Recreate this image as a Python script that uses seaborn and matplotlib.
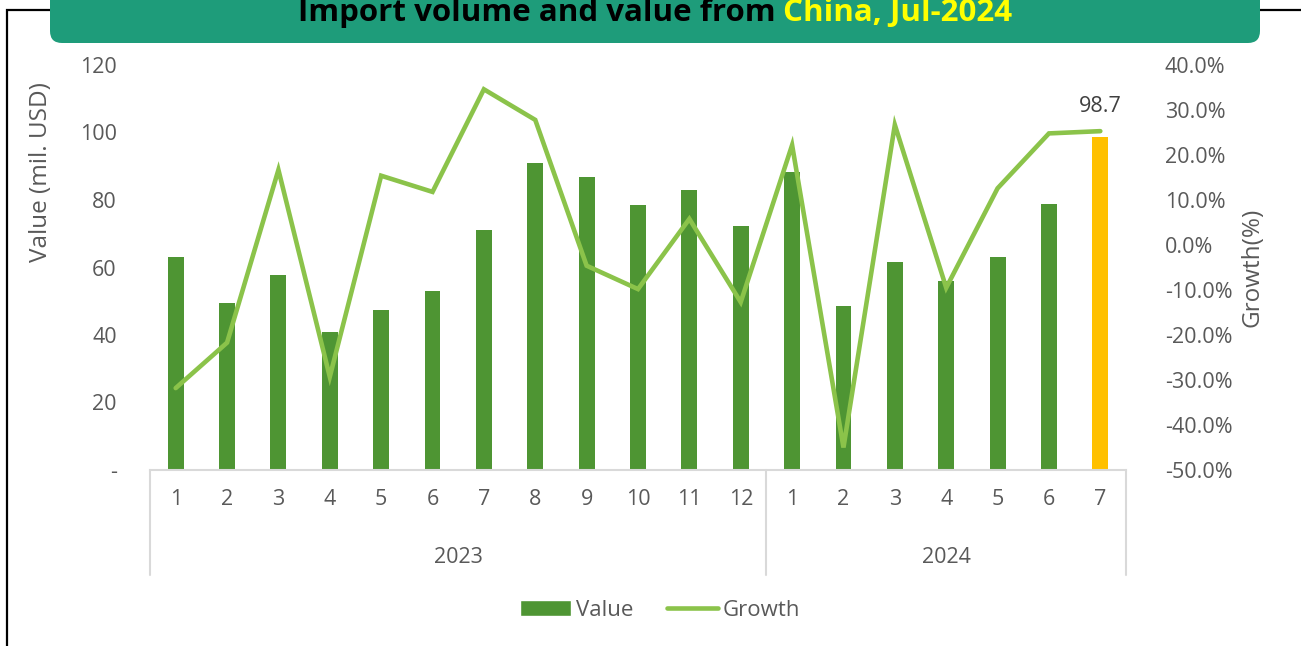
import numpy as np
import pandas as pd
import matplotlib
matplotlib.use("Agg")
import matplotlib.pyplot as plt
import seaborn as sns
from matplotlib.patches import FancyBboxPatch, Rectangle, Patch
from matplotlib.lines import Line2D
from matplotlib.transforms import IdentityTransform, blended_transform_factory

months = ["1", "2", "3", "4", "5", "6", "7", "8", "9", "10", "11", "12",
          "1", "2", "3", "4", "5", "6", "7"]
years = ["2023", "2024"]
year_sizes = [12, 7]
value = [63.2, 49.5, 57.8, 40.9, 47.3, 52.9, 71.2, 91.1, 86.9, 78.4, 82.9, 72.3,
         88.3, 48.6, 61.6, 56.0, 63.1, 78.8, 98.7]
growth = [-31.8, -21.7, 16.7, -29.3, 15.4, 11.8, 34.6, 27.8, -4.6, -9.8, 5.8, -12.7,
          22.2, -45.0, 26.7, -9.5, 12.6, 24.8, 25.3]

sns.set_style("white")
plt.rcParams["font.family"] = ["Open Sans", "DejaVu Sans"]

BAR = "#4e9533"
LAST = "#ffc000"
LINE = "#8bc34a"
GREY = "#595959"

df = pd.DataFrame({"pos": range(len(value)), "value": value, "growth": growth})
pal = {p: BAR for p in df["pos"]}
pal[len(value) - 1] = LAST

W, H = 1301, 646
fig = plt.figure(figsize=(W / 100, H / 100), dpi=100)

# outer frame and title banner
fig.patches.append(Rectangle((7, -20), 1400, H - 10 + 20, transform=IdentityTransform(),
                             fill=False, edgecolor="black", linewidth=1.6, zorder=0))
fig.patches.append(FancyBboxPatch((50, H - 43), 1210, 70, transform=IdentityTransform(),
                                  boxstyle="round,pad=0,rounding_size=12",
                                  facecolor="#1e9c7a", edgecolor="none", zorder=1))

ax = fig.add_axes([150 / W, (H - 470) / H, 976 / W, 405 / H])
sns.barplot(data=df, x="pos", y="value", hue="pos", palette=pal, legend=False,
            width=0.31, linewidth=0, saturation=1, ax=ax)
ax.set_xlim(-0.5, len(value) - 0.5)
ax.set_ylim(0, 120)
ax.set_yticks(range(0, 121, 20))
ax.set_yticklabels(["-"] + [str(v) for v in range(20, 121, 20)])
ax.set_xticks(range(len(months)))
ax.set_xticklabels(months)
ax.tick_params(axis="both", length=0, labelsize=15.5, labelcolor=GREY)
ax.tick_params(axis="y", pad=24)
ax.tick_params(axis="x", pad=14)
ax.set_xlabel("")
ax.set_ylabel("Value (mil. USD)", fontsize=17.5, color=GREY)
ax.yaxis.set_label_coords(-0.099, 0.735)
for s in ["top", "left", "right"]:
    ax.spines[s].set_visible(False)
ax.spines["bottom"].set_color("#d9d9d9")
ax.spines["bottom"].set_linewidth(1.5)

# year group labels and separators
tr = blended_transform_factory(ax.transData, ax.transAxes)
start = -0.5
edges = [start]
for y, n in zip(years, year_sizes):
    ax.text(start + n / 2, -0.215, y, transform=tr, ha="center", va="center",
            fontsize=15.5, color=GREY)
    start += n
    edges.append(start)
for e in edges:
    ax.plot([e, e], [0, -0.259], transform=tr, color="#d9d9d9", linewidth=1.5,
            clip_on=False)

ax.annotate(f"{value[-1]:.1f}", (len(value) - 1, value[-1]), xytext=(0, 14),
            textcoords="offset points", ha="center", va="bottom", fontsize=15.5, color="#404040")

ax2 = ax.twinx()
sns.lineplot(data=df, x="pos", y="growth", color=LINE, linewidth=3.3, ax=ax2,
             solid_capstyle="round", solid_joinstyle="miter")
ax2.set_ylim(-50, 40)
ax2.set_yticks(range(-50, 41, 10))
ax2.set_yticklabels([f"{v:.1f}%" for v in range(-50, 41, 10)])
ax2.tick_params(axis="y", length=0, labelsize=15.5, labelcolor=GREY, pad=28)
ax2.set_ylabel("Growth(%)", fontsize=17.5, color=GREY)
ax2.yaxis.set_label_coords(1.117, 0.5)
ax2.set_xlabel("")
for s in ax2.spines.values():
    s.set_visible(False)

handles = [Patch(facecolor=BAR, label="Value"),
           Line2D([0], [0], color=LINE, linewidth=3.3, label="Growth")]
fig.legend(handles=handles, loc="center", bbox_to_anchor=(660 / W, (H - 610) / H), ncol=2,
           frameon=False, fontsize=16, labelcolor=GREY, handlelength=2.3,
           handletextpad=0.2, columnspacing=1.5)

# two-colour title
fig.canvas.draw()
r = fig.canvas.get_renderer()
ty = (H - 21) / H
t1 = fig.text(0, ty, "Import volume and value from ", fontsize=22.5, fontweight="bold",
              color="black", va="baseline", zorder=3)
t2 = fig.text(0, ty, "China, Jul-2024", fontsize=22.5, fontweight="bold",
              color="#ffff00", va="baseline", zorder=3)
w1 = t1.get_window_extent(r).width
w2 = t2.get_window_extent(r).width
x0 = 655 - (w1 + w2) / 2
t1.set_x(x0 / W)
t2.set_x((x0 + w1) / W)

fig.savefig("out.png", dpi=100)
